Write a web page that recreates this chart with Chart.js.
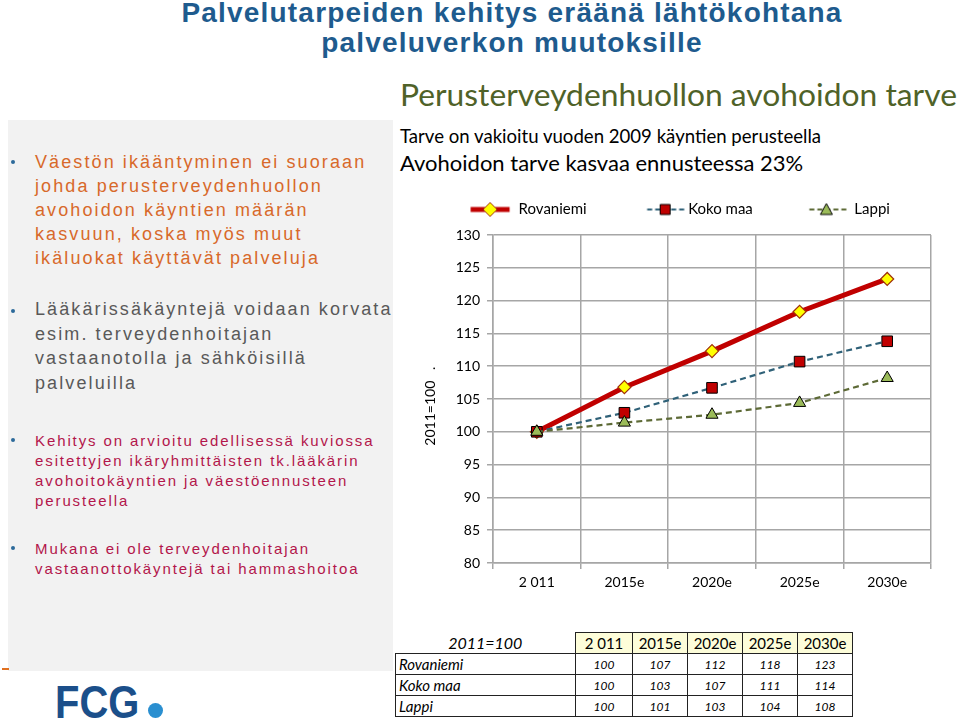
<!DOCTYPE html>
<html lang="fi">
<head>
<meta charset="utf-8">
<title>Palvelutarpeiden kehitys</title>
<script src="https://cdn.jsdelivr.net/npm/chart.js@4.4.1/dist/chart.umd.min.js"></script>
<style>
  html, body { margin: 0; padding: 0; }
  body { width: 960px; height: 723px; position: relative; overflow: hidden; background: #fff;
         font-family: "Liberation Sans", Arial, sans-serif; }
  .abs { position: absolute; white-space: nowrap; }
  #title { left: 64px; width: 896px; top: -2px; text-align: center; color: #1e5b8e;
           font-weight: bold; font-size: 28px; line-height: 30px; letter-spacing: 1.2px; }
  #panel { left: 8px; top: 120px; width: 385px; height: 551px; background: #f2f2f2; }
  .dot { position: absolute; width: 4px; height: 4px; border-radius: 50%; background: #2c6a9a; }
  .txt { position: absolute; left: 35px; white-space: nowrap; }
  .big { font-size: 18px; line-height: 24px; letter-spacing: 2.1px; }
  .small { font-size: 15px; line-height: 20px; letter-spacing: 1.9px; }
  .hdr { position: absolute; left: 400px; white-space: nowrap; font-family: Lato, sans-serif; line-height: 1; }
  #chartBox { position: absolute; left: 386px; top: 190px; width: 574px; height: 410px; }
  #tbl { position: absolute; left: 395px; top: 632px; border-collapse: collapse; table-layout: fixed;
         font-family: Lato, sans-serif; color: #000; }
  #tbl td { border: 1.5px solid #222; padding: 0 3px; height: 20px; font-style: italic; font-size: 12px; text-align: center; }
  #tbl td.lbl { text-align: left; font-size: 15px; }
  #tbl tr.head td { background: #fdfdd9; font-style: normal; font-size: 15px; }
  #tbl tr.head td.corner { background: none; border: none; font-style: italic; font-size: 16px; }
  #logo { left: 55px; top: 677px; font-weight: bold; font-size: 47px; line-height: 50px; color: #1b4f8a;
          transform: scaleX(0.85); transform-origin: left top; }
  #logoDot { position: absolute; left: 148px; top: 703px; width: 15px; height: 15px; border-radius: 50%; background: #2a8fd0; }
</style>
</head>
<body>
<div id="title" class="abs">Palvelutarpeiden kehitys eräänä lähtökohtana<br>palveluverkon muutoksille</div>

<div id="panel" class="abs"></div>
<div class="dot" style="left:11px; top:160px"></div>
<div class="txt big" style="top:150px; color:#d8692a">Väestön ikääntyminen ei suoraan<br>johda perusterveydenhuollon<br>avohoidon käyntien määrän<br>kasvuun, koska myös muut<br>ikäluokat käyttävät palveluja</div>
<div class="dot" style="left:11px; top:309px"></div>
<div class="txt big" style="top:297px; line-height:24.5px; color:#595959">Lääkärissäkäyntejä voidaan korvata<br>esim. terveydenhoitajan<br>vastaanotolla ja sähköisillä<br>palveluilla</div>
<div class="dot" style="left:11px; top:438px"></div>
<div class="txt small" style="top:431px; color:#b3164b">Kehitys on arvioitu edellisessä kuviossa<br>esitettyjen ikäryhmittäisten tk.lääkärin<br>avohoitokäyntien ja väestöennusteen<br>perusteella</div>
<div class="dot" style="left:11px; top:546px"></div>
<div class="txt small" style="top:539px; color:#b3164b">Mukana ei ole terveydenhoitajan<br>vastaanottokäyntejä tai hammashoitoa</div>

<div class="hdr" style="top:79px; font-size:31.8px; color:#4f6228">Perusterveydenhuollon avohoidon tarve</div>
<div class="hdr" style="top:127px; font-size:18.6px; color:#000">Tarve on vakioitu vuoden 2009 käyntien perusteella</div>
<div class="hdr" style="top:152px; font-size:22px; color:#000">Avohoidon tarve kasvaa ennusteessa 23%</div>

<div id="chartBox"><canvas id="chart"></canvas></div>

<table id="tbl"></table>

<div class="abs" style="left:2px; top:668px; width:7px; height:2px; background:#e07020"></div>
<div id="logo" class="abs">FCG</div>
<div id="logoDot"></div>

<script>
// chart data
const categories = ['2 011', '2015e', '2020e', '2025e', '2030e'];
const seriesNames = ['Rovaniemi', 'Koko maa', 'Lappi'];
const rovaniemi = [100, 106.8, 112.3, 118.3, 123.3];
const kokoMaa = [100, 102.9, 106.7, 110.7, 113.8];
const lappi = [100, 101.4, 102.6, 104.4, 108.2];
const yMin = 80, yMax = 130, yStep = 5;
const yTitle = '2011=100   .    ';

// table under the chart
const tableCorner = '2011=100';
const tableRovaniemi = [100, 107, 112, 118, 123];
const tableKokoMaa = [100, 103, 107, 111, 114];
const tableLappi = [100, 101, 103, 104, 108];

const gridColor = '#a6a6a6';
const tickFont = { family: 'Lato', size: 14 };

// table
const tbl = document.getElementById('tbl');
const widths = [180, 57, 55, 55, 55, 55];
const cg = document.createElement('colgroup');
widths.forEach(w => { const c = document.createElement('col'); c.style.width = w + 'px'; cg.appendChild(c); });
tbl.appendChild(cg);
function addRow(cells, cls, firstCls) {
  const tr = document.createElement('tr');
  if (cls) tr.className = cls;
  cells.forEach((v, i) => {
    const td = document.createElement('td');
    td.textContent = v;
    if (i === 0 && firstCls) td.className = firstCls;
    tr.appendChild(td);
  });
  tbl.appendChild(tr);
}
addRow([tableCorner, ...categories], 'head', 'corner');
addRow([seriesNames[0], ...tableRovaniemi], '', 'lbl');
addRow([seriesNames[1], ...tableKokoMaa], '', 'lbl');
addRow([seriesNames[2], ...tableLappi], '', 'lbl');

// legend icons: line + marker, drawn on small canvases
const ICON_W = 84;
function legendIcon(color, width, dash, marker, fill, stroke, from, to, mx) {
  const m = 12;
  const c = document.createElement('canvas');
  c.width = ICON_W + 2 * m; c.height = 20;
  const g = c.getContext('2d');
  const base = m + ICON_W + 7.5;   // where the label text starts
  g.strokeStyle = color; g.lineWidth = width; g.setLineDash(dash);
  g.beginPath(); g.moveTo(base + from, 10); g.lineTo(base + to, 10); g.stroke();
  g.setLineDash([]);
  const x = base + mx, y = 10;
  g.fillStyle = fill; g.strokeStyle = stroke; g.lineWidth = 1;
  g.beginPath();
  if (marker === 'diamond') { g.moveTo(x, y - 7); g.lineTo(x + 7, y); g.lineTo(x, y + 7); g.lineTo(x - 7, y); g.closePath(); }
  else if (marker === 'square') { g.rect(x - 5, y - 5, 10, 10); }
  else { g.moveTo(x, y - 6); g.lineTo(x + 6, y + 5); g.lineTo(x - 6, y + 5); g.closePath(); }
  g.fill(); g.stroke();
  return c;
}
const icons = [
  legendIcon('#c00000', 5, [], 'diamond', '#ffff00', '#a0300a', -48, -9, -28.5),
  legendIcon('#2f6178', 2, [5, 3], 'square', '#c00000', '#000', -41, -1, -23),
  legendIcon('#5d6a36', 2, [5, 3], 'triangle', '#9bbb59', '#000', -45, -5, -28)
];

new Chart(document.getElementById('chart'), {
  type: 'line',
  data: {
    labels: categories,
    datasets: [
      { label: seriesNames[0], data: rovaniemi, order: 3, borderColor: '#c00000', borderWidth: 5,
        pointStyle: 'rectRot', pointRadius: 6.5, pointBackgroundColor: '#ffff00', pointBorderColor: '#a0300a', pointBorderWidth: 1.2 },
      { label: seriesNames[1], data: kokoMaa, order: 2, borderColor: '#2f6178', borderWidth: 2.2, borderDash: [6, 4],
        pointStyle: 'rect', pointRadius: 7.5, pointBackgroundColor: '#c00000', pointBorderColor: '#000', pointBorderWidth: 1 },
      { label: seriesNames[2], data: lappi, order: 1, borderColor: '#5d6a36', borderWidth: 2.2, borderDash: [6, 4],
        pointStyle: 'triangle', pointRadius: 7, pointBackgroundColor: '#9bbb59', pointBorderColor: '#000', pointBorderWidth: 1 }
    ]
  },
  options: {
    responsive: true,
    maintainAspectRatio: false,
    animation: false,
    devicePixelRatio: 1,
    layout: { padding: { top: 2, right: 29, left: 0, bottom: 0 } },
    plugins: {
      tooltip: { enabled: false },
      legend: {
        position: 'top',
        labels: {
          usePointStyle: true,
          pointStyleWidth: ICON_W,
          padding: 10,
          color: '#000',
          font: { family: 'Lato', size: 15 },
          generateLabels: () => seriesNames.map((name, i) => ({
            text: name, pointStyle: icons[i], datasetIndex: i, hidden: false,
            fillStyle: 'rgba(0,0,0,0)', strokeStyle: 'rgba(0,0,0,0)', lineWidth: 0, fontColor: '#000'
          }))
        }
      },
      // thin empty spacer between legend and plot
      subtitle: { display: true, text: ' ', weight: 500, position: 'top',
                  font: { size: 1, lineHeight: 1 }, padding: { top: 7, bottom: 0 } }
    },
    scales: {
      x: {
        offset: true,
        grid: { offset: true, color: gridColor, lineWidth: 1.5, tickLength: 6 },
        border: { color: gridColor, width: 1.5 },
        ticks: { color: '#000', font: tickFont, padding: 5, maxRotation: 0, autoSkip: false },
        afterFit: s => { s.height = 37; }
      },
      y: {
        min: yMin, max: yMax,
        grid: { color: gridColor, lineWidth: 1.5, tickLength: 6 },
        border: { color: gridColor, width: 1.5 },
        ticks: { stepSize: yStep, color: '#000', font: tickFont, padding: 7 },
        title: { display: true, text: yTitle, color: '#000', font: { family: 'Lato', size: 14 },
                 padding: { top: 35.6, bottom: 0 } },
        afterFit: s => { s.width = 107; }
      }
    }
  }
});
</script>
</body>
</html>
